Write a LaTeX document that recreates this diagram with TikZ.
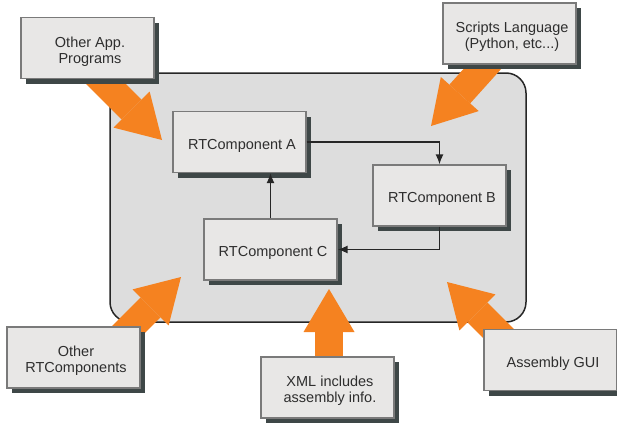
\documentclass[tikz,border=0pt]{standalone}
\usepackage{fontspec}
\setmainfont{Liberation Sans}
\usetikzlibrary{arrows.meta,shadows,calc}

\definecolor{boxfill}{HTML}{E8E7E6}
\definecolor{boxline}{HTML}{7A7A7A}
\definecolor{boxshade}{HTML}{3E4747}
\definecolor{hostfill}{HTML}{DDDDDD}
\definecolor{hostline}{HTML}{262626}
\definecolor{fatorange}{HTML}{F58220}
\definecolor{labeltext}{HTML}{2E2E2E}

\newcommand{\boxtext}[1]{\raisebox{-4pt}[\height][\depth]{\begin{tabular}{@{\hspace{5pt}}c@{}}#1\end{tabular}}}

\tikzset{
	compbox/.style={draw=boxline, line width=1.2pt, fill=boxfill, minimum width=133pt, minimum height=61pt, inner sep=0pt, text=labeltext, font=\fontsize{14.5}{16}\selectfont, drop shadow={shadow xshift=5pt, shadow yshift=-5pt, fill=boxshade, opacity=1}},
	hostbox/.style={draw=hostline, line width=1.5pt, fill=hostfill, rounded corners=20pt, minimum width=416pt, minimum height=249pt},
	fatarrow/.style={draw=fatorange, line width=28pt, -{Triangle[length=43pt,width=51pt,line width=0pt]}},
	link/.style={draw=hostline, line width=1.5pt, -{Latex[length=10pt,width=8pt]}}
}

\begin{document}
\begin{tikzpicture}[x=1pt,y=-1pt]
		\useasboundingbox (0,0) rectangle (617,423);
		\node[hostbox] (host) at (318,197.5) {};
		
		\coordinate (appstail) at (82,60);
		\coordinate (appstip) at (162,140);
		\coordinate (scriptstail) at (503,46);
		\coordinate (scriptstip) at (431,126);
		\coordinate (otherstail) at (101,357);
		\coordinate (otherstip) at (181,277);
		\coordinate (xmltail) at (329,385);
		\coordinate (xmltip) at (329,289);
		\coordinate (guitail) at (527,362);
		\coordinate (guitip) at (447,282);
		
		\draw[fatarrow] (appstail) -- (appstip);
		\draw[fatarrow] (scriptstail) -- (scriptstip);
		\draw[fatarrow] (otherstail) -- (otherstip);
		\draw[fatarrow] (xmltail) -- (xmltip);
		\draw[fatarrow] (guitail) -- (guitip);
		
		\node[compbox] (apps) at (87.5,48) {\boxtext{Other App.\\Programs}};
		\node[compbox] (scripts) at (509.5,33.5) {\boxtext{Scripts Language\\(Python, etc...)}};
		\node[compbox] (compA) at (239.5,142) {\boxtext{RTComponent A}};
		\node[compbox] (compB) at (439.5,195.5) {\boxtext{RTComponent B}};
		\node[compbox] (compC) at (270.5,249.5) {\boxtext{RTComponent C}};
		\node[compbox] (others) at (73.5,357.5) {\boxtext{Other\\RTComponents}};
		\node[compbox] (xml) at (327.5,387.5) {\boxtext{XML includes\\assembly info.}};
		\node[compbox] (gui) at (550.5,360) {\boxtext{Assembly GUI}};
		
		\draw[link] (compA.east) -| (compB.north);
		\draw[link] (compB.south) |- (compC.east);
		\draw[link] (compC.north) -- (compC.north |- compA.south);
\end{tikzpicture}
\end{document}
